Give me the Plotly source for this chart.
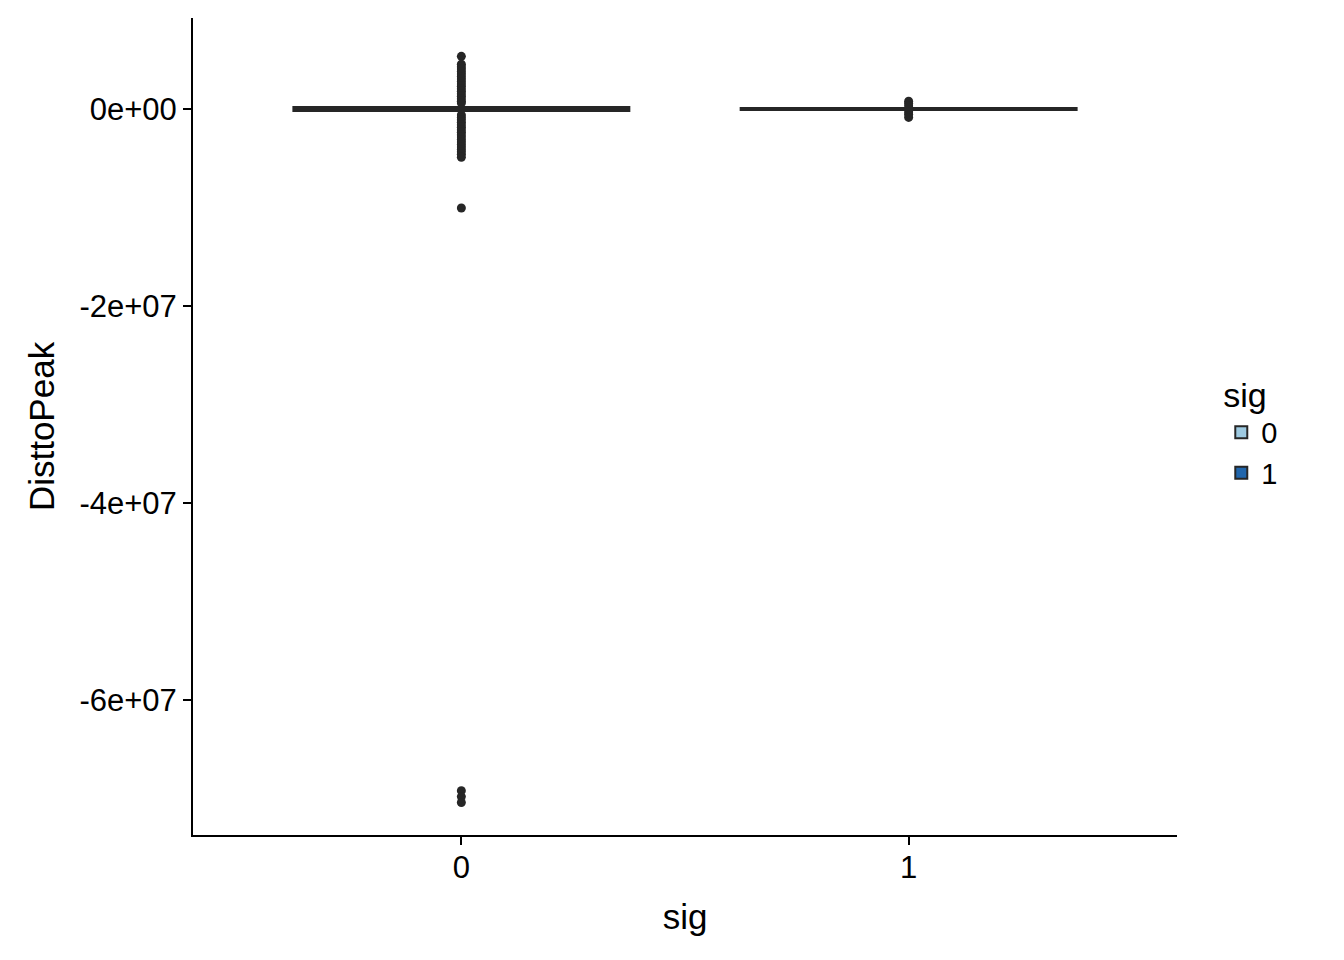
import plotly.graph_objects as go

# ---- data ----
categories = ["0", "1"]
fill_colors = ["#9ECAE1", "#2166AC"]

q1_vals = [-1.8e5, -7.0e4]
median_vals = [0.0, 0.0]
q3_vals = [1.8e5, 7.0e4]
lower_fence = [-5.0e5, -1.5e5]
upper_fence = [5.5e5, 1.5e5]

outliers_0 = [5.35e6, 4.55e6, 4.3e6, 4.05e6, 3.8e6, 3.55e6, 3.3e6, 3.05e6, 2.8e6,
              2.55e6, 2.3e6, 2.05e6, 1.8e6, 1.55e6, 1.3e6, 1.05e6, 0.8e6, 0.6e6,
              -0.6e6, -0.85e6, -1.1e6, -1.35e6, -1.6e6, -1.85e6, -2.1e6, -2.35e6,
              -2.6e6, -2.85e6, -3.1e6, -3.35e6, -3.6e6, -3.85e6, -4.1e6, -4.35e6,
              -4.6e6, -4.9e6, -1.005e7, -6.92e7, -6.98e7, -7.04e7]
outliers_1 = [0.8e6, 0.55e6, 0.3e6, -0.3e6, -0.55e6, -0.85e6]
outliers = [outliers_0, outliers_1]

y_tickvals = [0, -2e7, -4e7, -6e7]
y_ticktext = ["0e+00", "-2e+07", "-4e+07", "-6e+07"]

line_col = "#262626"
font_fam = "Liberation Sans, Arial, sans-serif"

fig = go.Figure()
for i, cat in enumerate(categories):
    fig.add_trace(go.Box(
        x=[cat], q1=[q1_vals[i]], median=[median_vals[i]], q3=[q3_vals[i]],
        lowerfence=[lower_fence[i]], upperfence=[upper_fence[i]],
        name=cat, fillcolor=fill_colors[i], line=dict(color=line_col, width=2.5),
        width=0.75, boxpoints=False, whiskerwidth=0, legendgroup=cat,
    ))
for i, cat in enumerate(categories):
    fig.add_trace(go.Scatter(
        x=[cat] * len(outliers[i]), y=outliers[i], mode="markers",
        marker=dict(color=line_col, size=9), showlegend=False, hoverinfo="y",
    ))

fig.update_layout(
    width=1336, height=952,
    paper_bgcolor="white", plot_bgcolor="white",
    margin=dict(l=185, r=167, t=10, b=125),
    boxmode="overlay",
    font=dict(family=font_fam, size=31, color="black"),
    legend=dict(
        title=dict(text="sig", font=dict(size=34)),
        x=1.045, y=0.495, xanchor="left", yanchor="middle",
        font=dict(size=29), tracegroupgap=0, itemsizing="constant",
    ),
    showlegend=True,
)
fig.update_xaxes(
    type="category", categoryorder="array", categoryarray=categories,
    range=[-0.6, 1.6], showline=True, linecolor="black", linewidth=2,
    ticks="outside", ticklen=8, tickcolor="black", tickwidth=2,
    ticklabelstandoff=-4,
    showgrid=False, zeroline=False,
    title=dict(text="sig", font=dict(size=35), standoff=20),
    tickfont=dict(size=31, color="black"),
)
fig.update_yaxes(
    range=[-7.37e7, 9.24e6], tickvals=y_tickvals, ticktext=y_ticktext,
    showline=True, linecolor="black", linewidth=2,
    ticks="outside", ticklen=8, tickcolor="black", tickwidth=2,
    showgrid=False, zeroline=False,
    title=dict(text="DisttoPeak", font=dict(size=35), standoff=14),
    tickfont=dict(size=31, color="black"),
)

fig.write_html("out.html")
